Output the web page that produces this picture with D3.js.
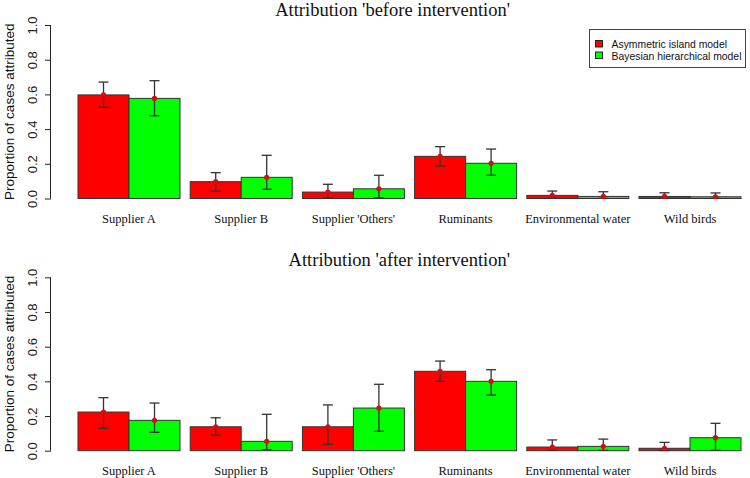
<!DOCTYPE html>
<html><head><meta charset="utf-8">
<script src="https://cdn.jsdelivr.net/npm/d3@7"></script>
<style>body{margin:0;background:#fff}svg{display:block}</style>
</head><body>
<svg id="chart" width="750" height="478"></svg>
<script>
const categories = ["Supplier A","Supplier B","Supplier 'Others'","Ruminants","Environmental water","Wild birds"];
const seriesNames = ["Asymmetric island model","Bayesian hierarchical model"];
const seriesColors = ["#ff0000","#00ff00"];
const yTicks = [0,0.2,0.4,0.6,0.8,1.0];
const panelTitles = ["Attribution 'before intervention'","Attribution 'after intervention'"];

const beforeIsland   = [0.597,0.097,0.037,0.243,0.018,0.012];
const beforeIslandLo = [0.526,0.043,0.003,0.187,0.002,0.001];
const beforeIslandHi = [0.671,0.149,0.082,0.299,0.043,0.033];
const beforeBayes    = [0.577,0.122,0.056,0.203,0.012,0.010];
const beforeBayesLo  = [0.477,0.053,0.005,0.134,0.001,0.001];
const beforeBayesHi  = [0.679,0.249,0.134,0.285,0.039,0.032];

const afterIsland    = [0.223,0.138,0.138,0.458,0.021,0.014];
const afterIslandLo  = [0.129,0.090,0.037,0.400,0.002,0.001];
const afterIslandHi  = [0.306,0.190,0.264,0.517,0.062,0.048];
const afterBayes     = [0.175,0.054,0.246,0.400,0.025,0.075];
const afterBayesLo   = [0.106,0.006,0.112,0.321,0.002,0.002];
const afterBayesHi   = [0.275,0.210,0.383,0.467,0.067,0.158];

const panels = [
  {title: panelTitles[0], base: 198.5, top: 25, titleY: 15.5, labelY: 222.5,
   series: [[beforeIsland,beforeIslandLo,beforeIslandHi],[beforeBayes,beforeBayesLo,beforeBayesHi]]},
  {title: panelTitles[1], base: 450.7, top: 277.3, titleY: 266, labelY: 474.5,
   series: [[afterIsland,afterIslandLo,afterIslandHi],[afterBayes,afterBayesLo,afterBayesHi]]}
];

const svg = d3.select("#chart");
const x0 = d3.scaleBand().domain(categories).range([78, 741]).paddingInner(2/22).paddingOuter(0);
const x1 = d3.scaleBand().domain(d3.range(seriesNames.length)).range([0, x0.bandwidth()]).padding(0);

panels.forEach(p => {
  const y = d3.scaleLinear().domain([0,1]).range([p.base, p.top]);
  const g = svg.append("g");

  g.append("text").attr("x", 510).attr("y", p.titleY).attr("text-anchor","end")
    .attr("font-family","'Liberation Serif', 'Times New Roman', serif").attr("font-size", 18.5)
    .attr("fill","#111").text(p.title);

  const ax = g.append("g").attr("transform","translate(51,0)")
    .call(d3.axisLeft(y).tickValues(yTicks).tickFormat(d3.format(".1f")).tickSize(6).tickPadding(4));
  ax.select(".domain").attr("stroke","#222").attr("d", `M-0.5,${p.base}V${p.top}`);
  ax.selectAll(".tick line").attr("stroke","#222");
  ax.selectAll(".tick text")
    .attr("font-family","'Liberation Sans', Arial, sans-serif").attr("font-size", 13).attr("fill","#222")
    .attr("transform","rotate(-90)").attr("x",0).attr("y",-14).attr("dy","0").attr("text-anchor","middle");

  g.append("text").attr("transform", `translate(14,${(p.base+p.top)/2}) rotate(-90)`)
    .attr("text-anchor","middle").attr("font-family","'Liberation Sans', Arial, sans-serif")
    .attr("font-size", 13.5).attr("fill","#111").text("Proportion of cases attributed");

  const groups = g.selectAll("g.grp").data(categories).enter().append("g")
    .attr("transform", d => `translate(${x0(d)},0)`);
  groups.each(function(cat, ci) {
    const gg = d3.select(this);
    p.series.forEach((s, si) => {
      const v = s[0][ci], lo = s[1][ci], hi = s[2][ci];
      const bx = x1(si), bw = x1.bandwidth();
      gg.append("rect").attr("x", bx).attr("y", y(v)).attr("width", bw)
        .attr("height", y(0) - y(v)).attr("fill", seriesColors[si])
        .attr("stroke","#333").attr("stroke-width",1);
      const cx = bx + bw/2;
      gg.append("line").attr("x1",cx).attr("x2",cx).attr("y1",y(lo)).attr("y2",y(hi))
        .attr("stroke","#333").attr("stroke-width",1.3);
      [lo,hi].forEach(e => gg.append("line").attr("x1",cx-5).attr("x2",cx+5)
        .attr("y1",y(e)).attr("y2",y(e)).attr("stroke","#333").attr("stroke-width",1.3));
      gg.append("circle").attr("cx",cx).attr("cy",y(v)).attr("r",2.6).attr("fill","#d01010");
    });
  });

  g.selectAll("text.cat").data(categories).enter().append("text")
    .attr("x", d => x0(d) + x0.bandwidth()/2).attr("y", p.labelY)
    .attr("text-anchor","middle").attr("font-family","'Liberation Serif', 'Times New Roman', serif")
    .attr("font-size", 12.5).attr("fill","#111").text(d => d);
});

const lg = svg.append("g");
lg.append("rect").attr("x",589.5).attr("y",29.5).attr("width",156).attr("height",38)
  .attr("fill","#fff").attr("stroke","#444").attr("stroke-width",1);
seriesNames.forEach((n,i) => {
  lg.append("rect").attr("x",595.5).attr("y",40.5 + i*11.5).attr("width",7).attr("height",6.5)
    .attr("fill",seriesColors[i]).attr("stroke","#222").attr("stroke-width",1);
  lg.append("text").attr("x",611.5).attr("y",47.5 + i*12.5)
    .attr("font-family","'Liberation Sans', Arial, sans-serif").attr("font-size",10.4)
    .attr("fill","#111").text(n);
});
</script>
</body></html>
